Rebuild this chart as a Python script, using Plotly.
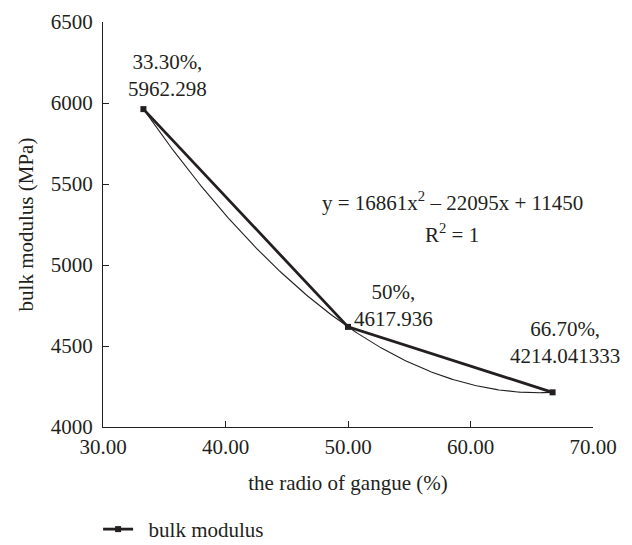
import numpy as np
import plotly.graph_objects as go

# data
gangue_ratio = [33.3, 50.0, 66.7]          # %
bulk_modulus = [5962.298, 4617.936, 4214.041333]  # MPa
point_labels = ["33.30%,<br>5962.298", "50%,<br>4617.936", "66.70%,<br>4214.041333"]
x_ticks = [30, 40, 50, 60, 70]
y_ticks = [4000, 4500, 5000, 5500, 6000, 6500]
equation_text = "y = 16861x<sup>2</sup> – 22095x + 11450"
r2_text = "R<sup>2</sup> = 1"

FONT = "Liberation Serif"
FS = 21
INK = "#231f20"

# polynomial trendline (order 2) fitted to the data, x as fraction
coef = np.polyfit(np.array(gangue_ratio) / 100.0, bulk_modulus, 2)
xt = np.linspace(gangue_ratio[0], gangue_ratio[-1], 200)
yt = np.polyval(coef, xt / 100.0)

fig = go.Figure()
fig.add_trace(go.Scatter(
    x=xt, y=yt, mode="lines",
    line=dict(color=INK, width=1.1),
    showlegend=False, hoverinfo="skip"))
fig.add_trace(go.Scatter(
    x=gangue_ratio, y=bulk_modulus, mode="lines+markers",
    name="\u00a0\u00a0bulk modulus",
    line=dict(color=INK, width=2.8),
    marker=dict(symbol="square", size=6, color=INK)))

# data labels (pixel offsets of the label block centre from the point)
offsets = [(24, 34), (45, 21), (12, 50)]
for (xv, yv, lab, (dx, dy)) in zip(gangue_ratio, bulk_modulus, point_labels, offsets):
    fig.add_annotation(x=xv, y=yv, text=lab, showarrow=False,
                       xshift=dx, yshift=dy, align="center",
                       xanchor="center", yanchor="middle",
                       font=dict(family=FONT, size=FS, color=INK))

fig.add_annotation(x=0.714, y=0.556, xref="paper", yref="paper",
                   text=equation_text, showarrow=False,
                   xanchor="center", yanchor="middle",
                   font=dict(family=FONT, size=FS, color=INK))
fig.add_annotation(x=0.712, y=0.479, xref="paper", yref="paper",
                   text=r2_text, showarrow=False,
                   xanchor="center", yanchor="middle",
                   font=dict(family=FONT, size=FS, color=INK))

fig.update_layout(
    width=632, height=545,
    margin=dict(l=103, r=39, t=22, b=118, autoexpand=False),
    paper_bgcolor="white", plot_bgcolor="white",
    font=dict(family=FONT, size=FS, color=INK),
    showlegend=True,
    legend=dict(orientation="h", x=-0.01, y=-0.253, xanchor="left", yanchor="middle",
                font=dict(family=FONT, size=FS, color=INK), bgcolor="rgba(0,0,0,0)"),
    xaxis=dict(range=[30, 70], tickvals=x_ticks,
               ticktext=[f"{v:.2f}" for v in x_ticks],
               showgrid=False, zeroline=False,
               showline=True, linecolor=INK, linewidth=1.3,
               ticks="inside", ticklen=6, tickcolor=INK, tickwidth=1.3,
               ticklabelstandoff=1,
               title=dict(text="the radio of gangue (%)", standoff=16,
                          font=dict(family=FONT, size=FS, color=INK))),
    yaxis=dict(range=[4000, 6500], tickvals=y_ticks,
               showgrid=False, zeroline=False,
               showline=True, linecolor=INK, linewidth=1.3,
               ticks="inside", ticklen=6, tickcolor=INK, tickwidth=1.3,
               ticklabelstandoff=5,
               title=dict(text="bulk modulus (MPa)", standoff=11,
                          font=dict(family=FONT, size=FS, color=INK))),
)

fig.write_html("out.html")
